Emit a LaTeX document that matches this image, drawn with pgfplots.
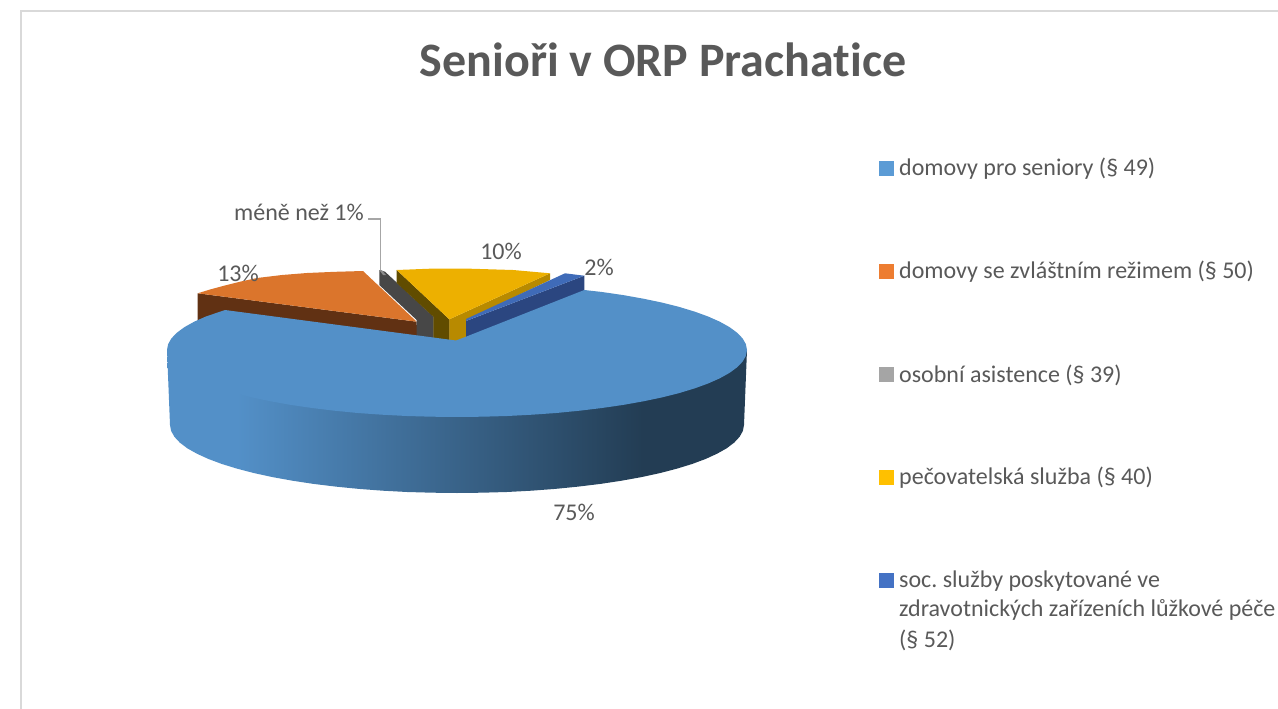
\documentclass[border=0pt]{standalone}
\usepackage{fontspec}
\setmainfont{Carlito}[Ligatures=NoCommon]
\usepackage{pgfplots}
\pgfplotsset{compat=1.18}
\definecolor{txt}{HTML}{595959}
\definecolor{pieA}{HTML}{5390C8}
\definecolor{pieAd}{HTML}{233D54}
\definecolor{oraT}{HTML}{DB752C}
\definecolor{oraS}{HTML}{613113}
\definecolor{gryS}{HTML}{474747}
\definecolor{gryT}{HTML}{8C8C8C}
\definecolor{yelT}{HTML}{EDB000}
\definecolor{yelL}{HTML}{614C00}
\definecolor{yelR}{HTML}{B88A00}
\definecolor{bluT}{HTML}{3F6BB8}
\definecolor{bluS}{HTML}{2B4680}
\definecolor{legA}{HTML}{5B9BD5}
\definecolor{legB}{HTML}{ED7D31}
\definecolor{legC}{HTML}{A5A5A5}
\definecolor{legD}{HTML}{FFC000}
\definecolor{legE}{HTML}{4472C4}
\pgfdeclarehorizontalshading{sidegrad}{100bp}{color(0bp)=(pieA); color(31bp)=(pieA); color(66bp)=(pieAd); color(100bp)=(pieAd)}
\begin{document}
\frenchspacing
\begin{tikzpicture}
\useasboundingbox (0,0) rectangle (1278pt,709pt);
\begin{axis}[
  at={(0,0)}, anchor=south west,
  scale only axis, width=1278pt, height=709pt,
  xmin=0, xmax=1278, ymin=0, ymax=709, y dir=reverse,
  hide axis, clip=true,
  title={\fontsize{48}{56}\selectfont\bfseries Senioři v ORP Prachatice},
  title style={at={(axis description cs:0.5188,0.9075)}, anchor=center, text=txt, inner sep=0pt},
  every axis plot/.append style={line width=0pt, draw=none},
]
% frame
\addplot[draw=black!15, line width=1.5pt] coordinates {(21,709) (21,11) (1278,11)};
% orange slice
\addplot[fill=oraS] coordinates {(197.7,293.3) (416.7,321.7) (417,345) (300,345) (197.7,322)} --cycle;
\addplot[fill=oraT] coordinates {(197.7,293.3) (210,289.5) (223,286) (240,281.7) (257,278) (282,275) (307,273) (335,271.8) (363,271) (416.7,321.7)} --cycle;
% grey slice
\addplot[fill=gryS] coordinates {(379.3,270) (379.3,285) (416.7,320) (416.7,345) (433.5,345) (433.5,316.7) (385,271.7)} --cycle;
\addplot[fill=gryT] coordinates {(379.3,270) (381.7,270) (386,275) (383,275)} --cycle;
% yellow slice
\addplot[fill=yelL] coordinates {(396.7,270) (396.7,283) (433.3,316.7) (433.3,345) (449.5,345) (449.5,319.5)} --cycle;
\addplot[fill=yelR] coordinates {(449.3,319.3) (449.3,345) (466.5,345) (466.5,320) (550,280) (550,273.3)} --cycle;
\addplot[fill=yelT] coordinates {(396.7,270) (430,268.7) (470,268.7) (513,270) (550,273.3) (449.3,319.3)} --cycle;
% small blue slice
\addplot[fill=bluS] coordinates {(584.3,275.7) (584.3,295) (466,345) (466,321)} --cycle;
\addplot[fill=bluT] coordinates {(565,273.3) (584.3,275.7) (466,321) (466,319)} --cycle;
% big slice: side
\addplot[shading=sidegrad] coordinates {(167,350) (170,425) (171.1,430.9) (174.4,436.8) (179.8,442.6) (187.3,448.3) (196.9,453.7) (208.5,459) (221.9,464) (237.2,468.7) (254.1,473.1) (272.5,477.1) (292.4,480.7) (313.5,483.9) (335.7,486.6) (358.8,488.9) (382.7,490.7) (407.2,492) (432,492.7) (457,493) (482,492.7) (506.8,492) (531.3,490.7) (555.2,488.9) (578.3,486.6) (600.5,483.9) (621.6,480.7) (641.5,477.1) (659.9,473.1) (676.8,468.7) (692.1,464) (705.5,459) (717.1,453.7) (726.7,448.3) (734.2,442.6) (739.6,436.8) (742.9,430.9) (744,425) (747,350)} --cycle;
% big slice: top
\addplot[fill=pieA] coordinates {(456,340.5) (466,336.7) (584.3,290) (602,292) (623.3,295.1) (643.4,298.7) (662.1,302.6) (679.1,306.9) (694.6,311.6) (708.1,316.5) (719.8,321.7) (729.5,327.1) (737.1,332.7) (742.6,338.4) (745.9,344.2) (747,350) (745.9,355.8) (742.6,361.6) (737.1,367.3) (729.5,372.9) (719.8,378.3) (708.1,383.5) (694.6,388.4) (679.1,393.1) (662.1,397.4) (643.4,401.3) (623.3,404.9) (602,408) (579.6,410.7) (556.2,413) (532.1,414.7) (507.3,416) (482.3,416.7) (457,417) (431.7,416.7) (406.7,416) (381.9,414.7) (357.8,413) (334.4,410.7) (312,408) (290.7,404.9) (270.6,401.3) (251.9,397.4) (234.9,393.1) (219.4,388.4) (205.9,383.5) (194.2,378.3) (184.5,372.9) (176.9,367.3) (171.4,361.6) (168.1,355.8) (167,350) (168.1,344.2) (171.4,338.4) (176.9,332.7) (184.5,327.1) (194.2,321.7) (205.9,316.5) (225,310)} --cycle;
% leader line
\addplot[draw=black!35, line width=1.3pt] coordinates {(368,219) (380.5,219) (380.5,270)};
% legend markers
\addplot[only marks, mark=square*, mark size=7pt, mark options={fill=legA,draw=legA,line width=0pt}] coordinates {(886,168)};
\addplot[only marks, mark=square*, mark size=7pt, mark options={fill=legB,draw=legB,line width=0pt}] coordinates {(886,271)};
\addplot[only marks, mark=square*, mark size=7pt, mark options={fill=legC,draw=legC,line width=0pt}] coordinates {(886,374)};
\addplot[only marks, mark=square*, mark size=7pt, mark options={fill=legD,draw=legD,line width=0pt}] coordinates {(886,477)};
\addplot[only marks, mark=square*, mark size=7pt, mark options={fill=legE,draw=legE,line width=0pt}] coordinates {(886,580)};
% texts
\begin{scope}[every node/.style={text=txt, inner sep=0pt, font=\fontsize{24}{28}\selectfont}]
\node[anchor=west] at (axis cs:899,169) {domovy pro seniory (§ 49)};
\node[anchor=west] at (axis cs:899,272) {domovy se zvláštním režimem (§ 50)};
\node[anchor=west] at (axis cs:899,375) {osobní asistence (§ 39)};
\node[anchor=west] at (axis cs:899,478) {pečovatelská služba (§ 40)};
\node[anchor=west] at (axis cs:899,581) {soc. služby poskytované ve};
\node[anchor=west] at (axis cs:899,610) {zdravotnických zařízeních lůžkové péče};
\node[anchor=west] at (axis cs:899,640) {(§ 52)};
\node[anchor=east] at (axis cs:364,212) {méně než 1\%};
\node at (axis cs:238,273) {13\%};
\node at (axis cs:501,251) {10\%};
\node at (axis cs:599,267) {2\%};
\node at (axis cs:574,512) {75\%};
\end{scope}
\end{axis}
\end{tikzpicture}
\end{document}
